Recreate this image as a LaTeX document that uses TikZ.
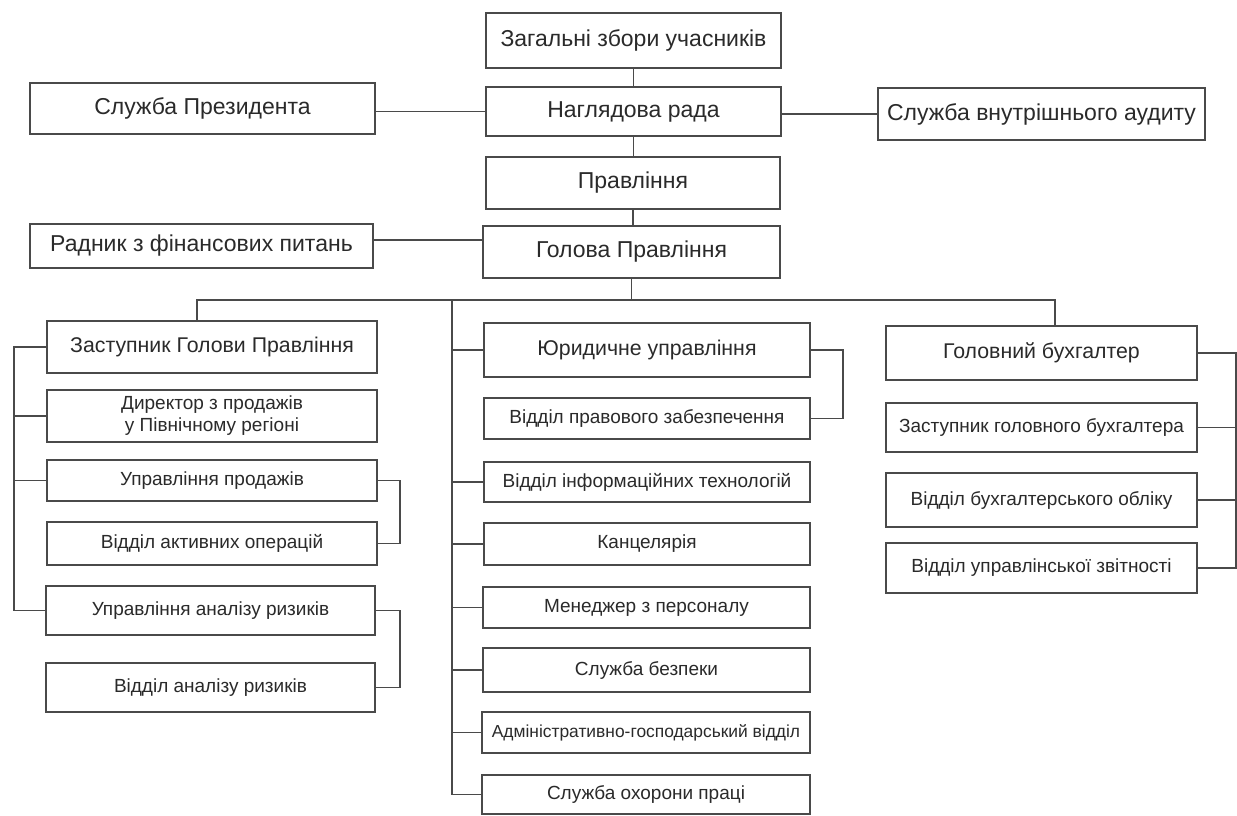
\documentclass[tikz,border=0pt]{standalone}
\usepackage{fontspec}
\setmainfont{Liberation Sans}
\definecolor{lc}{HTML}{4A4A4A}
\definecolor{tc}{HTML}{2A2A2A}
\tikzset{
  box/.style={draw=lc, line width=1.8pt, fill=white, inner sep=0pt, outer sep=0pt, align=center, text=tc},
  fa/.style={font=\fontsize{23}{27}\selectfont},
  fb/.style={font=\fontsize{21.3}{25}\selectfont},
  fc/.style={font=\fontsize{19}{22}\selectfont},
  fd/.style={font=\fontsize{17.4}{21}\selectfont},
  ln/.style={draw=lc, line width=1.8pt}
}
\newcommand\mybox[7]{%
  \pgfmathsetmacro\cx{(#2+#4)/2}\pgfmathsetmacro\cy{(#3+#5)/2}%
  \pgfmathsetmacro\ww{#4-#2}\pgfmathsetmacro\hh{#5-#3}%
  \node[box,#6,minimum width=\ww pt,minimum height=\hh pt] (#1) at (\cx,\cy) {#7};}
\begin{document}
\begin{tikzpicture}[x=1pt,y=-1pt]
\useasboundingbox[fill=white] (0,0) rectangle (1237,816);
% top
\mybox{zag}{486}{13}{781}{68}{fa}{Загальні збори учасників}
\mybox{nag}{486}{87}{781}{136}{fa}{Наглядова рада}
\mybox{prav}{486}{157}{780}{209}{fa}{Правління}
\mybox{gol}{483}{226}{780}{278}{fa}{Голова Правління}
\mybox{pres}{30}{83}{375}{134}{fa}{Служба Президента}
\mybox{radn}{30}{224}{373}{268}{fa}{Радник з фінансових питань}
\mybox{audit}{878}{88}{1205}{140}{fa}{Служба внутрішнього аудиту}
% left column
\mybox{zast}{47}{321}{377}{373}{fb}{Заступник Голови Правління}
\mybox{dir}{47}{390}{377}{442}{fc}{Директор з продажів\\у Північному регіоні}
\mybox{uprod}{47}{460}{377}{501}{fc}{Управління продажів}
\mybox{aktiv}{47}{522}{377}{565}{fc}{Відділ активних операцій}
\mybox{uriz}{46}{586}{375}{635}{fc}{Управління аналізу ризиків}
\mybox{vriz}{46}{663}{375}{712}{fc}{Відділ аналізу ризиків}
% middle column
\mybox{jur}{484}{323}{810}{377}{fb}{Юридичне управління}
\mybox{pzab}{484}{398}{810}{439}{fc}{Відділ правового забезпечення}
\mybox{it}{484}{462}{810}{502}{fc}{Відділ інформаційних технологій}
\mybox{kanc}{484}{523}{810}{565}{fc}{Канцелярія}
\mybox{men}{483}{587}{810}{628}{fc}{Менеджер з персоналу}
\mybox{bezp}{483}{648}{810}{692}{fc}{Служба безпеки}
\mybox{adm}{482}{712}{810}{753}{fd}{Адміністративно-господарський відділ}
\mybox{ohor}{482}{775}{810}{814}{fc}{Служба охорони праці}
% right column
\mybox{gbuh}{886}{326}{1197}{380}{fb}{Головний бухгалтер}
\mybox{zgb}{886}{403}{1197}{452}{fc}{Заступник головного бухгалтера}
\mybox{obl}{886}{473}{1197}{527}{fc}{Відділ бухгалтерського обліку}
\mybox{zvit}{886}{543}{1197}{593}{fc}{Відділ управлінської звітності}
% coordinates
\coordinate (busL) at (197,300);
\coordinate (busR) at (1055,300);
\coordinate (spL) at (14,0);
\coordinate (spM) at (452,0);
\coordinate (spR) at (1236,0);
\coordinate (brL) at (400,0);
\coordinate (brM) at (843,0);
% top connectors
\draw[ln] (zag.south) -- (zag.south |- nag.north);
\draw[ln] (nag.south) -- (nag.south |- prav.north);
\draw[ln] (prav.south) -- (prav.south |- gol.north);
\draw[ln] (pres.east |- nag.west) -- (nag.west);
\draw[ln] (audit.west -| nag.east) -- (audit.west);
\draw[ln] ([yshift=6pt]radn.east) -- ([yshift=6pt]radn.east -| gol.west);
\draw[ln] (gol.south) -- (gol.south |- busL);
\draw[ln] (zast.north -| busL) -- (busL) -- (busR) -- (busR |- gbuh.north);
% left column
\draw[ln] (zast.west) -| (spL |- uriz.west) -- (uriz.west);
\draw[ln] (dir.west) -- (dir.west -| spL);
\draw[ln] (uprod.west) -- (uprod.west -| spL);
\draw[ln] (uprod.east) -| (brL |- aktiv.east) -- (aktiv.east);
\draw[ln] (uriz.east) -| (brL |- vriz.east) -- (vriz.east);
% middle column
\draw[ln] (spM |- busL) -- (spM |- ohor.west) -- (ohor.west);
\foreach \n in {jur,it,kanc,men,bezp,adm}{\draw[ln] (\n.west) -- (\n.west -| spM);}
\draw[ln] (jur.east) -| (brM |- pzab.east) -- (pzab.east);
% right column
\draw[ln] (gbuh.east) -| (spR |- zvit.east) -- (zvit.east);
\draw[ln] (zgb.east) -- (zgb.east -| spR);
\draw[ln] (obl.east) -- (obl.east -| spR);
\end{tikzpicture}
\end{document}
